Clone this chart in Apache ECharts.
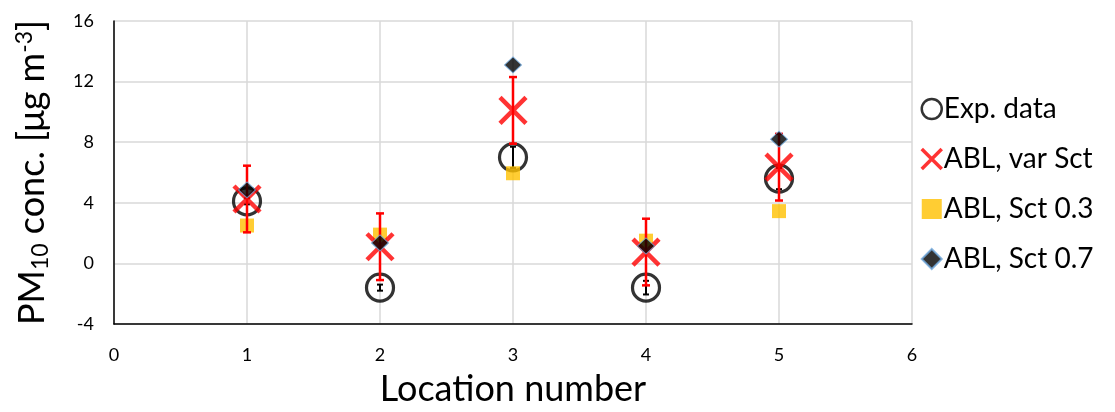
<!DOCTYPE html>
<html>
<head>
<meta charset="utf-8">
<script src="https://cdn.jsdelivr.net/npm/echarts@6/dist/echarts.min.js"></script>
<style>
html,body{margin:0;padding:0;background:#fff;}
#chart{width:1115px;height:412px;}
</style>
</head>
<body>
<div id="chart"></div>
<script>
// ---- data ----
var locations = [1, 2, 3, 4, 5];
var expData = [4.1, -1.6, 7.0, -1.6, 5.6];
var expErr = [0.2, 0.2, 0.7, 0.45, 0.7];
var varSct = [4.25, 1.1, 10.1, 0.75, 6.35];
var varSctErr = [2.2, 2.2, 2.2, 2.2, 2.2];
var sct03 = [2.5, 1.9, 5.95, 1.5, 3.45];
var sct07 = [4.85, 1.35, 13.1, 1.15, 8.2];
var xTicks = [0, 1, 2, 3, 4, 5, 6];
var yTicks = [-4, 0, 4, 8, 12, 16];

var FONT = 'Lato';

function pairs(vals) {
  return locations.map(function (x, i) { return [x, vals[i]]; });
}
function errRows(vals, errs) {
  return locations.map(function (x, i) { return [x, vals[i] - errs[i], vals[i] + errs[i]]; });
}
function errRenderer(color, lw, cap) {
  return function (params, api) {
    var x = api.value(0);
    var lo = api.coord([x, api.value(1)]);
    var hi = api.coord([x, api.value(2)]);
    var st = { stroke: color, lineWidth: lw };
    return {
      type: 'group',
      children: [
        { type: 'line', shape: { x1: lo[0], y1: lo[1], x2: hi[0], y2: hi[1] }, style: st },
        { type: 'line', shape: { x1: lo[0] - cap, y1: lo[1], x2: lo[0] + cap, y2: lo[1] }, style: st },
        { type: 'line', shape: { x1: hi[0] - cap, y1: hi[1], x2: hi[0] + cap, y2: hi[1] }, style: st }
      ]
    };
  };
}

var X_PATH = 'path://M0,0L10,10M10,0L0,10';

var chart = echarts.init(document.getElementById('chart'), null, { renderer: 'canvas' });
chart.setOption({
  animation: false,
  backgroundColor: '#fff',
  textStyle: { fontFamily: FONT },
  grid: { left: 114, right: 203, top: 21, bottom: 85, containLabel: false },
  xAxis: {
    type: 'value', min: xTicks[0], max: xTicks[xTicks.length - 1], interval: 1,
    name: 'Location number', nameLocation: 'middle', nameGap: 47,
    nameTextStyle: { fontSize: 36, color: '#000', fontFamily: FONT },
    axisLine: { onZero: false, lineStyle: { color: '#000', width: 1.5 } },
    axisTick: { show: false },
    axisLabel: { fontSize: 18, color: '#000', margin: 22, fontFamily: FONT },
    splitLine: { show: true, lineStyle: { color: '#d9d9d9', width: 1.5 } }
  },
  yAxis: {
    type: 'value', min: yTicks[0], max: yTicks[yTicks.length - 1], interval: 4,
    name: 'PM{sub|10} conc. [μg m{sup|-3}]', nameLocation: 'middle', nameGap: 62, nameRotate: 90,
    nameTextStyle: {
      fontSize: 36, color: '#000', fontFamily: FONT,
      rich: {
        sub: { fontSize: 23, color: '#000', fontFamily: FONT, verticalAlign: 'bottom', padding: [16, 0, 0, 0] },
        sup: { fontSize: 23, color: '#000', fontFamily: FONT, verticalAlign: 'top', padding: [0, 0, 16, 0] }
      }
    },
    axisLine: { show: true, onZero: false, lineStyle: { color: '#000', width: 1.5 } },
    axisTick: { show: false },
    axisLabel: { fontSize: 18, color: '#000', margin: 20, fontFamily: FONT },
    splitLine: { show: true, lineStyle: { color: '#d9d9d9', width: 1.5 } }
  },
  legend: {
    orient: 'vertical', left: 915, top: 90, itemGap: 22,
    itemWidth: 20, itemHeight: 20,
    textStyle: { fontSize: 28, color: '#000', fontFamily: FONT, padding: [0, 0, 0, -3] },
    data: [
      { name: 'Exp. data', itemStyle: { borderWidth: 2.5 } },
      { name: 'ABL, var Sct', itemStyle: { borderWidth: 3.5 } },
      { name: 'ABL, Sct 0.3' },
      { name: 'ABL, Sct 0.7' }
    ]
  },
  series: [
    {
      type: 'custom', name: 'expErr', renderItem: errRenderer('#000', 2, 3),
      data: errRows(expData, expErr), z: 2, silent: true
    },
    {
      type: 'scatter', name: 'Exp. data', data: pairs(expData),
      symbol: 'circle', symbolSize: 27,
      itemStyle: { color: 'rgba(0,0,0,0)', borderColor: '#000', borderWidth: 3.2 }, z: 3
    },
    {
      type: 'scatter', name: 'ABL, Sct 0.3', data: pairs(sct03),
      symbol: 'rect', symbolSize: 14,
      itemStyle: { color: '#FFC000' }, z: 4
    },
    {
      type: 'custom', name: 'varErr', renderItem: errRenderer('#FF0000', 2.5, 4),
      data: errRows(varSct, varSctErr), z: 5, silent: true
    },
    {
      type: 'scatter', name: 'ABL, var Sct', data: pairs(varSct),
      symbol: X_PATH, symbolSize: 26,
      itemStyle: { color: 'rgba(0,0,0,0)', borderColor: '#FF0000', borderWidth: 4.5 }, z: 6
    },
    {
      type: 'scatter', name: 'ABL, Sct 0.7', data: pairs(sct07),
      symbol: 'diamond', symbolSize: [17, 16],
      itemStyle: { color: '#000', borderColor: '#6FA8DC', borderWidth: 1 }, z: 7
    }
  ]
});
</script>
</body>
</html>
